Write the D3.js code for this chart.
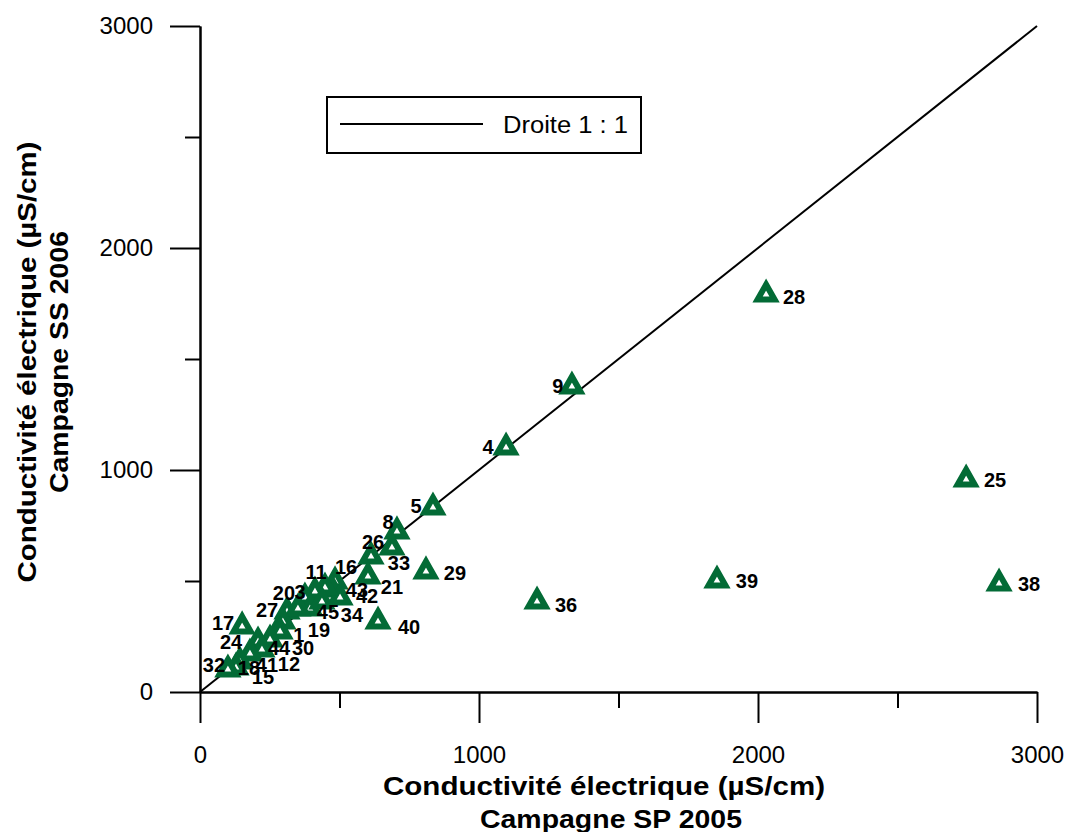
<!DOCTYPE html>
<html>
<head>
<meta charset="utf-8">
<script src="https://cdn.jsdelivr.net/npm/d3@7"></script>
<style>
  body { margin: 0; background: #fff; }
  svg { font-family: 'Liberation Sans', Arial, sans-serif; }
</style>
</head>
<body>
<div id="chart"></div>
<script>
// point ids (sample numbers)
const ids = ['28', '9', '4', '5', '25', '39', '38', '36', '29', '40', '8', '26', '33', '21',
  '16', '43', '42', '11', '3', '20', '45', '34', '27', '19', '1', '17', '30', '44', '24',
  '12', '41', '18', '15', '32']
// Campagne SP 2005 (x)
const sp2005 = [2029, 1333, 1097, 835, 2746, 1853, 2864, 1208, 810, 638, 706, 613, 688, 602,
  484, 473, 502, 448, 412, 376, 394, 437, 312, 351, 297, 151, 287, 251, 208,
  222, 179, 143, 129, 100]
// Campagne SS 2006 (y)
const ss2006 = [1797, 1383, 1108, 838, 964, 509, 495, 414, 550, 324, 730, 617, 658, 527,
  505, 468, 432, 477, 459, 432, 383, 414, 369, 383, 324, 302, 279, 243, 234,
  198, 180, 144, 117, 108]
// label nudges (px) so the numbers sit where they are in the figure
const labelDx = [28, -14, -18, -17, 29, 30, 30, 29, 29, 31, -9, 2, 7, 24,
  11, 25, 27, -9, -15, -21, 18, 30, -20, 21, 16, -19, 23, 9, -27,
  27, 17, 9, 27, -14]
const labelDy = [4, 1, 1, 0, 2, 2, 2, 5, 3, 7, -8, -13, 17, 12,
  -13, 2, 0, -14, 2, -3, 5, 15, 0, 23, 15, -2, 18, 10, 2,
  16, 13, 8, 11, -3]

const majorTicks = [0, 1000, 2000, 3000]
const minorTicks = [500, 1500, 2500]
const lineOneToOne = [0, 3000]

const width = 1068
const height = 832
const green = '#036b36'

const svg = d3
  .select('#chart')
  .append('svg')
  .attr('width', width)
  .attr('height', height)

const xPositionScale = d3.scaleLinear().domain([0, 3000]).range([200, 1037])
const yPositionScale = d3.scaleLinear().domain([0, 3000]).range([692, 26])

// axes
const xAxis = d3.axisBottom(xPositionScale).tickValues(majorTicks).tickSize(31).tickSizeOuter(0)
  .tickPadding(23).tickFormat(d3.format('d'))
const xMinor = d3.axisBottom(xPositionScale).tickValues(minorTicks).tickSize(16).tickSizeOuter(0).tickFormat('')
const yAxis = d3.axisLeft(yPositionScale).tickValues(majorTicks).tickSize(30).tickSizeOuter(0)
  .tickPadding(17).tickFormat(d3.format('d'))
const yMinor = d3.axisLeft(yPositionScale).tickValues(minorTicks).tickSize(15).tickSizeOuter(0).tickFormat('')

svg.append('g').attr('class', 'axis').attr('transform', 'translate(0,692)').call(xAxis)
svg.append('g').attr('class', 'axis').attr('transform', 'translate(0,692)').call(xMinor)
svg.append('g').attr('class', 'axis').attr('transform', 'translate(200,0)').call(yAxis)
svg.append('g').attr('class', 'axis').attr('transform', 'translate(200,0)').call(yMinor)

svg.selectAll('.axis path, .axis line').attr('stroke', '#000').attr('stroke-width', 2)
svg.selectAll('.axis text').attr('font-size', 24).attr('fill', '#000').attr('font-family', null)

// 1:1 line
const line = d3.line().x(d => xPositionScale(d)).y(d => yPositionScale(d))
svg
  .append('path')
  .datum(lineOneToOne)
  .attr('d', line)
  .attr('fill', 'none')
  .attr('stroke', '#000')
  .attr('stroke-width', 2)

// points
const points = ids.map((id, i) => ({ id: id, x: sp2005[i], y: ss2006[i], dx: labelDx[i], dy: labelDy[i] }))

svg
  .selectAll('.pt')
  .data(points)
  .enter()
  .append('path')
  .attr('class', 'pt')
  .attr('d', 'M0,-8.5L8.5,6.5L-8.5,6.5Z')
  .attr('transform', d => 'translate(' + xPositionScale(d.x) + ',' + yPositionScale(d.y) + ')')
  .attr('fill', '#fff')
  .attr('stroke', green)
  .attr('stroke-width', 6)
  .attr('stroke-linejoin', 'miter')

svg
  .selectAll('.lbl')
  .data(points)
  .enter()
  .append('text')
  .attr('class', 'lbl')
  .text(d => d.id)
  .attr('x', d => xPositionScale(d.x) + d.dx)
  .attr('y', d => yPositionScale(d.y) + d.dy)
  .attr('dy', '0.35em')
  .attr('text-anchor', 'middle')
  .attr('font-size', 20)
  .attr('font-weight', 'bold')

// legend
const legend = svg.append('g')
legend
  .append('rect')
  .attr('x', 327)
  .attr('y', 97)
  .attr('width', 314)
  .attr('height', 56)
  .attr('fill', '#fff')
  .attr('stroke', '#000')
  .attr('stroke-width', 2)
legend
  .append('line')
  .attr('x1', 340)
  .attr('x2', 483)
  .attr('y1', 124)
  .attr('y2', 124)
  .attr('stroke', '#000')
  .attr('stroke-width', 2)
legend
  .append('text')
  .text('Droite 1 : 1')
  .attr('x', 503)
  .attr('y', 125)
  .attr('dy', '0.35em')
  .attr('font-size', 23)
  .attr('textLength', 125)
  .attr('lengthAdjust', 'spacingAndGlyphs')

// axis titles
const xTitles = ['Conductivité électrique (µS/cm)', 'Campagne SP 2005']
svg
  .selectAll('.xt')
  .data(xTitles)
  .enter()
  .append('text')
  .text(d => d)
  .attr('x', (d, i) => (i === 0 ? 604 : 611))
  .attr('y', (d, i) => 795 + i * 33)
  .attr('text-anchor', 'middle')
  .attr('font-size', 25)
  .attr('font-weight', 'bold')
  .attr('textLength', (d, i) => (i === 0 ? 442 : 262))
  .attr('lengthAdjust', 'spacingAndGlyphs')

svg
  .selectAll('.yt')
  .data(xTitles.map((d, i) => (i === 0 ? d : 'Campagne SS 2006')))
  .enter()
  .append('text')
  .text(d => d)
  .attr('transform', (d, i) => 'translate(' + (36 + i * 32) + ',362) rotate(-90)')
  .attr('text-anchor', 'middle')
  .attr('font-size', 25)
  .attr('font-weight', 'bold')
  .attr('textLength', (d, i) => (i === 0 ? 441 : 262))
  .attr('lengthAdjust', 'spacingAndGlyphs')
</script>
</body>
</html>
